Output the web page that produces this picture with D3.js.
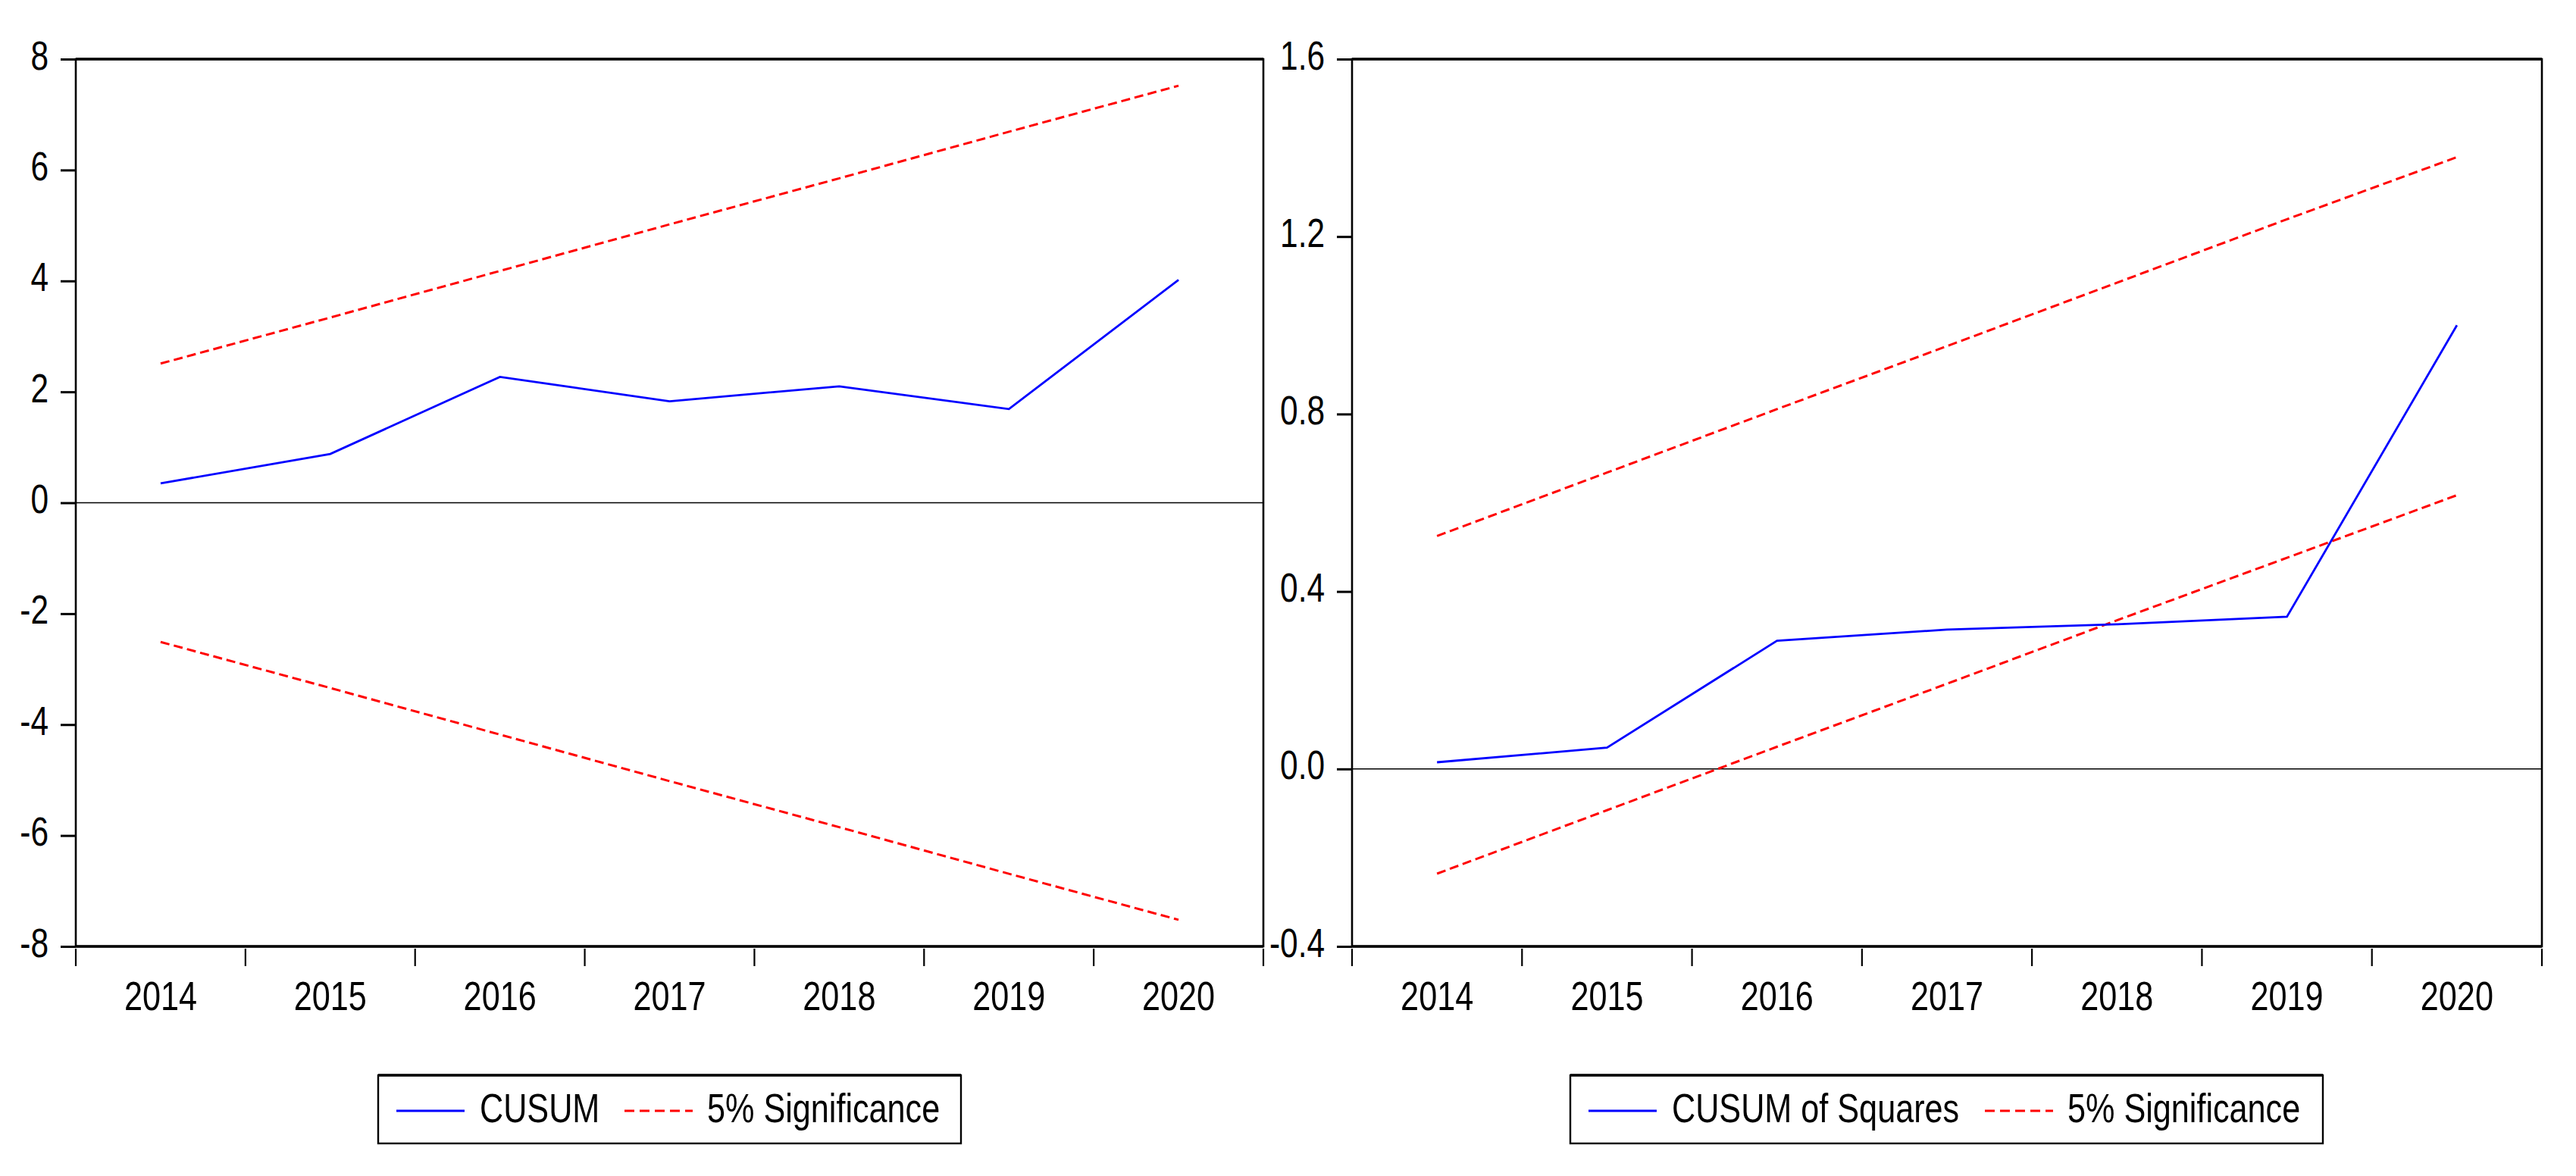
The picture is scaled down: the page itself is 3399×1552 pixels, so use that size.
<!DOCTYPE html>
<html lang="en">
<head>
  <meta charset="UTF-8">
  <title>CUSUM</title>
  <style>
    body { margin: 0; background: #fff; }
    text { font-family: "Liberation Sans", Arial, sans-serif; fill: #000; }
  </style>
</head>
<body>
  <svg id="grafico" width="3399" height="1552"></svg>

  <script src="https://d3js.org/d3.v7.min.js"></script>
  <script>
    // dados
    const anos = ['2014', '2015', '2016', '2017', '2018', '2019', '2020'];

    const cusum = [0.35, 0.88, 2.27, 1.83, 2.10, 1.69, 4.02];
    const cusumSup = [2.51, 3.34, 4.18, 5.02, 5.85, 6.69, 7.52];
    const cusumInf = [-2.51, -3.34, -4.18, -5.02, -5.85, -6.69, -7.52];
    const ticksCusum = [8, 6, 4, 2, 0, -2, -4, -6, -8];

    const cusumSq = [0.015, 0.048, 0.289, 0.314, 0.326, 0.343, 1.0];
    const cusumSqSup = [0.525, 0.668, 0.811, 0.953, 1.096, 1.239, 1.379];
    const cusumSqInf = [-0.236, -0.093, 0.050, 0.192, 0.335, 0.476, 0.617];
    const ticksCusumSq = [1.6, 1.2, 0.8, 0.4, 0.0, -0.4];

    const svg = d3.select('#grafico');
    const topo = 78, base = 1249;
    const estreito = 0.8; // texto do EViews sai comprimido na horizontal

    // comprime o texto na horizontal mantendo o ponto de ancoragem
    function comprimir(sel) {
      sel.each(function () {
        const t = d3.select(this);
        const x = +t.attr('x') || 0;
        t.attr('x', 0).attr('transform', `translate(${x},0) scale(${estreito},1)`);
      });
    }

    function desenharPainel(cfg) {
      const x = d3.scaleBand().domain(anos).range([cfg.esq, cfg.dir]).padding(0);
      const y = d3.scaleLinear().domain(cfg.dominio).range([base, topo]);
      const g = svg.append('g');

      // linha do zero
      g.append('line')
        .attr('x1', cfg.esq).attr('x2', cfg.dir)
        .attr('y1', y(0)).attr('y2', y(0))
        .attr('stroke', '#000').attr('stroke-width', 1.6);

      const linha = d3.line()
        .x((d, i) => x(anos[i]) + x.bandwidth() / 2)
        .y(d => y(d));

      // limites de 5%
      [cfg.sup, cfg.inf].forEach(serie => {
        g.append('path')
          .datum(serie)
          .attr('d', linha)
          .attr('fill', 'none')
          .attr('stroke', '#ff0000')
          .attr('stroke-width', 3)
          .attr('stroke-dasharray', '12,6');
      });

      g.append('path')
        .datum(cfg.serie)
        .attr('d', linha)
        .attr('fill', 'none')
        .attr('stroke', '#0000ff')
        .attr('stroke-width', 2.8);

      // moldura
      g.append('rect')
        .attr('x', cfg.esq).attr('y', topo)
        .attr('width', cfg.dir - cfg.esq).attr('height', base - topo)
        .attr('fill', 'none').attr('stroke', '#000').attr('stroke-width', 2.6);
      [topo, base].forEach(yy => {
        g.append('line')
          .attr('x1', cfg.esq).attr('x2', cfg.dir)
          .attr('y1', yy).attr('y2', yy)
          .attr('stroke', '#000').attr('stroke-width', 3.6);
      });

      // eixo y
      const eixoY = g.append('g')
        .attr('transform', `translate(${cfg.esq},0)`)
        .call(d3.axisLeft(y).tickValues(cfg.ticks).tickSize(20).tickPadding(16)
          .tickFormat(cfg.formato));
      eixoY.select('.domain').remove();
      eixoY.selectAll('line').attr('stroke-width', 3);
      eixoY.selectAll('text')
        .attr('dy', 13)
        .style('font-size', '53px')
        .call(comprimir);

      // marcas do eixo x nos limites de cada ano
      g.selectAll('.marcaX')
        .data(anos.concat(['fim']))
        .enter().append('line')
        .attr('class', 'marcaX')
        .attr('x1', d => d === 'fim' ? cfg.dir : x(d))
        .attr('x2', d => d === 'fim' ? cfg.dir : x(d))
        .attr('y1', base + 3).attr('y2', base + 26)
        .attr('stroke', '#000').attr('stroke-width', 2.2);

      const eixoX = g.append('g')
        .attr('transform', `translate(0,${base})`)
        .call(d3.axisBottom(x).tickSize(0).tickPadding(0));
      eixoX.select('.domain').remove();
      eixoX.selectAll('text')
        .attr('y', 84).attr('dy', 0)
        .style('font-size', '54px')
        .call(comprimir);

      // legenda
      const leg = g.append('g');
      leg.append('rect')
        .attr('x', cfg.leg.x).attr('y', 1419)
        .attr('width', cfg.leg.w).attr('height', 90)
        .attr('fill', 'none').attr('stroke', '#000').attr('stroke-width', 2.4);
      leg.append('line')
        .attr('x1', cfg.leg.x).attr('x2', cfg.leg.x + cfg.leg.w)
        .attr('y1', 1419).attr('y2', 1419)
        .attr('stroke', '#000').attr('stroke-width', 3.6);

      leg.append('line')
        .attr('x1', cfg.leg.x + 24).attr('x2', cfg.leg.x + 114)
        .attr('y1', 1466).attr('y2', 1466)
        .attr('stroke', '#0000ff').attr('stroke-width', 3);
      leg.append('text')
        .attr('x', cfg.leg.x + 134).attr('y', 1481)
        .style('font-size', '54px')
        .text(cfg.nome)
        .call(comprimir);
      leg.append('line')
        .attr('x1', cfg.leg.xr).attr('x2', cfg.leg.xr + 90)
        .attr('y1', 1466).attr('y2', 1466)
        .attr('stroke', '#ff0000').attr('stroke-width', 3)
        .attr('stroke-dasharray', '13,7');
      leg.append('text')
        .attr('x', cfg.leg.xr + 109).attr('y', 1481)
        .style('font-size', '54px')
        .text('5% Significance')
        .call(comprimir);
    }

    desenharPainel({
      esq: 100, dir: 1667, dominio: [-8, 8], ticks: ticksCusum,
      formato: d => String(d),
      serie: cusum, sup: cusumSup, inf: cusumInf,
      nome: 'CUSUM',
      leg: { x: 499, w: 769, xr: 824 }
    });

    desenharPainel({
      esq: 1784, dir: 3354, dominio: [-0.4, 1.6], ticks: ticksCusumSq,
      formato: d => d.toFixed(1),
      serie: cusumSq, sup: cusumSqSup, inf: cusumSqInf,
      nome: 'CUSUM of Squares',
      leg: { x: 2072, w: 993, xr: 2619 }
    });
  </script>
</body>
</html>
